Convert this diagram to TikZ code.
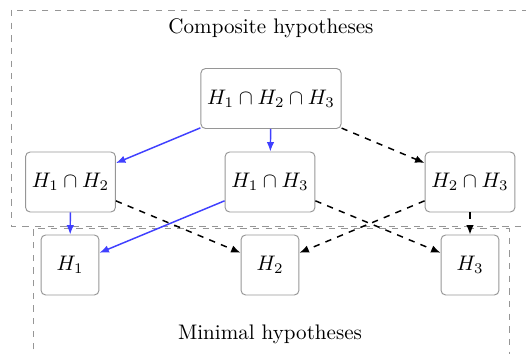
\documentclass[tikz,border=0pt]{standalone}
\usetikzlibrary{arrows.meta}
\definecolor{boxgray}{RGB}{150,150,150}
\definecolor{arrblue}{RGB}{64,64,255}
\begin{document}
\begin{tikzpicture}[x=0.475pt,y=-0.475pt,
  hyp/.style={draw=boxgray,rounded corners=2.2pt,inner xsep=3pt,minimum height=28.5pt,minimum width=27.5pt,line width=0.45pt},
  region/.style={draw=boxgray,dashed,line width=0.45pt},
  blu/.style={draw=arrblue,line width=0.7pt,-{Latex[length=4.5pt,width=3.6pt]}},
  dsh/.style={draw=black,dashed,line width=0.7pt,-{Latex[length=4.5pt,width=3.6pt]}}]
\useasboundingbox (0,0) rectangle (526,354);
\clip (0,0) rectangle (526,354);
\draw[region] (11,10) rectangle (540,226);
\draw[region] (33,400) -- (33,228.5) -- (509,228.5) -- (509,400);
\node (comp) at (271,28) {Composite hypotheses};
\node (mini) at (270,334) {Minimal hypotheses};
\node[hyp] (h123) at (271,98.5) {$H_1\cap H_2\cap H_3$};
\node[hyp] (h12) at (70.5,182) {$H_1\cap H_2$};
\node[hyp] (h13) at (270,182) {$H_1\cap H_3$};
\node[hyp] (h23) at (470,182) {$H_2\cap H_3$};
\node[hyp] (h1) at (70,265) {$H_1$};
\node[hyp] (h2) at (270,265) {$H_2$};
\node[hyp] (h3) at (470,265) {$H_3$};
\draw[blu] (h123) -- (h12);
\draw[blu] (h123) -- (h13);
\draw[dsh] (h123) -- (h23);
\draw[blu] (h12) -- (h1);
\draw[blu] (h13) -- (h1);
\draw[dsh] (h12) -- (h2);
\draw[dsh] (h13) -- (h3);
\draw[dsh] (h23) -- (h2);
\draw[dsh] (h23) -- (h3);
\end{tikzpicture}
\end{document}
